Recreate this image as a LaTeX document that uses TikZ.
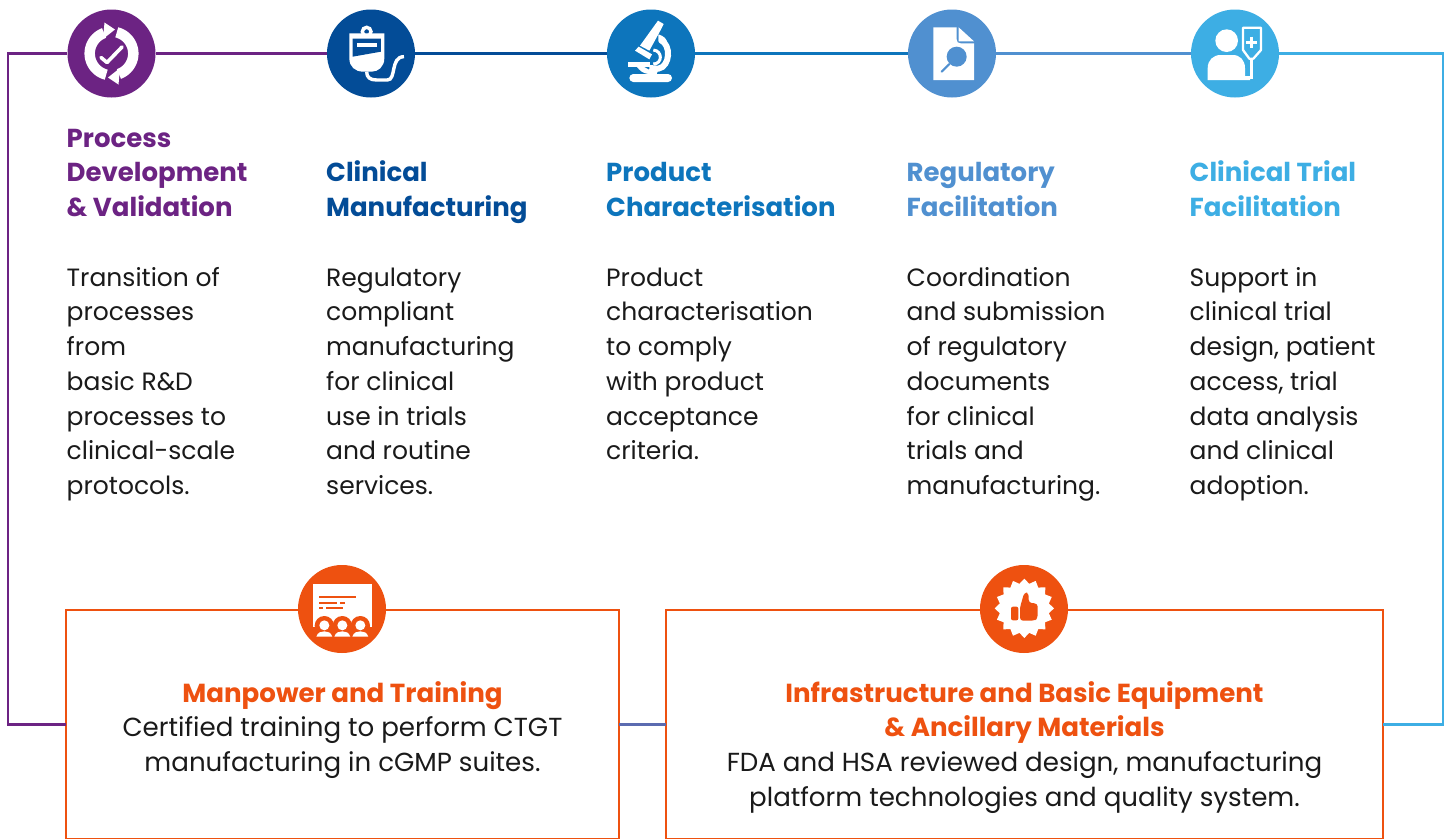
\documentclass[tikz,border=0pt]{standalone}
\usepackage{fontspec}
\setmainfont{Poppins}
\newcommand{\fl}{\rule{0pt}{24pt}}
\definecolor{cpurple}{HTML}{6C2383}
\definecolor{cnavy}{HTML}{034C97}
\definecolor{cblue}{HTML}{0D75BC}
\definecolor{csteel}{HTML}{5090D0}
\definecolor{csky}{HTML}{3DAEE4}
\definecolor{corange}{HTML}{EE5110}
\definecolor{ctext}{HTML}{1A1A1A}
\definecolor{cslate}{HTML}{5B6BB0}
\tikzset{
  x=1pt,y=-1pt,
  disc/.style={circle,minimum size=88pt,inner sep=0pt,fill=#1},
  conn/.style={line width=2.8pt,draw=#1},
  openbox/.style={rectangle,draw=corange,line width=2.8pt,inner sep=0pt,outer sep=0pt,anchor=north west},
  coltext/.style={anchor=north west,inner sep=0pt,align=left,text=ctext,font=\fontsize{25}{34.75}\selectfont},
  headtext/.style={anchor=north west,inner sep=0pt,align=left,font=\fontsize{26}{34.75}\selectfont\bfseries,text=#1},
  centertext/.style={anchor=north,inner sep=0pt,align=center,text=ctext,font=\fontsize{26.1}{34.75}\selectfont},
}
\begin{document}
\begin{tikzpicture}
\useasboundingbox (0,0) rectangle (1451,838);
\fill[white] (0,0) rectangle (1451,838);
% boxes
\node[openbox,minimum width=553pt,minimum height=229pt] (box1) at (66,610) {};
\node[openbox,minimum width=717pt,minimum height=229pt] (box2) at (666,610) {};
% discs
\node[disc=cpurple] (d1) at (111.5,53.5) {};
\node[disc=cnavy] (d2) at (371,53.5) {};
\node[disc=cblue] (d3) at (651,53.5) {};
\node[disc=csteel] (d4) at (952,53.5) {};
\node[disc=csky] (d5) at (1235,53.5) {};
\node[disc=corange] (d6) at (342,609) {};
\node[disc=corange] (d7) at (1024,609) {};
% corners
\coordinate (tl) at (8,53.5);
\coordinate (bl) at (8,724.5);
\coordinate (tr) at (1443,53.5);
\coordinate (br) at (1443,724.5);
% connectors
\draw[conn=cpurple,line join=miter] (d1) -- (tl) -- (bl) -- (box1);
\draw[conn=cpurple] (d1) -- (d2);
\draw[conn=cnavy] (d2) -- (d3);
\draw[conn=cblue] (d3) -- (d4);
\draw[conn=csteel] (d4) -- (d5);
\draw[conn=csky,line join=miter] (d5) -- (tr) -- (br) -- (box2);
\draw[conn=cslate] (box1) -- (box2);
% icon 1
\begin{scope}[shift={(111.5,53.5)}]
  \foreach \r in {0,180}{
    \begin{scope}[rotate=\r]
      \draw[white,line width=10.5pt] plot[domain=-76:70,samples=30] ({21.8*cos(\x)},{21.8*sin(\x)});
      \fill[white] (-3.5,24) -- (8.5,14.5) -- (7,31) -- cycle;
    \end{scope}
  }
  \draw[white,line width=3.6pt,line cap=round,line join=round] (-10.5,4) -- (-4.5,9) -- (10.5,-6.5);
\end{scope}
% icon 2
\begin{scope}[shift={(50,0)},scale=1/3]
  \draw[white,line width=3.4pt] (950,95) circle (13);
  \fill[white] (898,100) -- (1003,100) -- (1003,175) .. controls (1003,200) and (985,215) .. (965,215) -- (940,215) .. controls (915,215) and (898,200) .. (898,175) -- cycle;
  \fill[cnavy] (908,116) -- (993,116) -- (993,155) -- (908,170) -- cycle;
  \fill[white] (920,128) rectangle (982,140);
  \draw[white,line width=3.4pt] (950,215) .. controls (950,232) and (960,240) .. (980,240) -- (1012,240) .. controls (1040,240) and (1020,170) .. (1062,170);
\end{scope}
% icon 3
\begin{scope}[shift={(590,0)},scale=1/3]
  \fill[white,rounded corners=4pt] (118,222) rectangle (246,246);
  \fill[white] (114,186) rectangle (180,200);
  \fill[white] (150,137) -- (204,62) -- (221,72) -- (212,90) -- (178,152) -- cycle;
  \fill[white] (135,152) -- (146,140) -- (186,163) -- (178,178) -- cycle;
  \fill[white] (205,103) .. controls (222,108) and (232,118) .. (230,128) -- (205,125) -- cycle;
  \draw[white,line width=6pt] (212,120) .. controls (245,135) and (240,200) .. (205,206) -- (178,204);
  \draw[white,line width=3pt] (190,150) .. controls (218,152) and (218,192) .. (190,192);
  \fill[white] (140,200) .. controls (150,212) and (158,220) .. (175,222) -- (200,222) -- (205,210) -- (175,208) .. controls (170,205) and (165,202) .. (160,200) -- cycle;
\end{scope}
% icon 4
\begin{scope}[shift={(590,0)},scale=1/3]
  \fill[white] (1030,82) -- (1100,82) -- (1100,118) .. controls (1100,126) and (1104,130) .. (1112,130) -- (1152,130) -- (1152,240) -- (1030,240) -- cycle;
  \fill[white] (1106,82) -- (1152,124) -- (1106,124) -- cycle;
  \fill[csteel] (1100,170) circle (30);
  \draw[csteel,line width=2pt,line cap=round] (1078,192) -- (1055,215);
\end{scope}
% icon 5
\begin{scope}[shift={(1170,0)},scale=1/3]
  \fill[white] (170,122) circle (34);
  \fill[white] (113,240) -- (113,205) .. controls (113,180) and (130,165) .. (152,165) -- (188,165) .. controls (210,165) and (225,180) .. (225,205) -- (225,228) -- (240,228) -- (240,240) -- cycle;
  \draw[white,line width=2.3pt,line join=round] (219,83) -- (273,83) -- (273,150) -- (250,176) -- (238,176) -- (219,150) -- cycle;
  \draw[white,line width=3.2pt] (245,110) -- (245,144);
  \draw[white,line width=3.2pt] (228,127) -- (262,127);
  \draw[white,line width=2.8pt] (244,176) -- (244,238);
\end{scope}
% icon 6
\begin{scope}[shift={(280,555)},scale=1/3]
  \fill[white] (100,88) rectangle (275,216);
  \fill[corange] (118,123) rectangle (228,129);
  \fill[corange] (118,140) rectangle (172,146);
  \fill[corange] (180,140) rectangle (195,146);
  \fill[corange] (118,156) rectangle (130,162);
  \fill[corange] (138,156) rectangle (190,162);
  \foreach \c in {133,187,241}{
    \fill[corange] (\c,212) circle (29);
  }
  \fill[corange] (100,216) rectangle (275,250);
  \foreach \c in {133,187,241}{
    \fill[white] (\c,211) circle (15);
    \fill[white] (\c-24,245) .. controls (\c-20,232) and (\c-10,229) .. (\c,229) .. controls (\c+10,229) and (\c+20,232) .. (\c+24,245) -- cycle;
  }
\end{scope}
% icon 7
\begin{scope}[shift={(965,555)},scale=1/3]
  \fill[white] plot[domain=0:360,samples=33] ({178+(82+7*cos(16*\x))*cos(\x)},{160+(82+7*cos(16*\x))*sin(\x)}) -- cycle;
  \fill[corange,rounded corners=2pt] (138,155) rectangle (160,196);
  \fill[corange,rounded corners=3pt] (165,157) -- (178,112) -- (191,114) -- (191,143) -- (218,146) -- (218,190) -- (208,197) -- (165,197) -- cycle;
\end{scope}
% column texts
\node[headtext=cpurple] (h1) at (66.5,123) {\fl Process\\Development\\\& Validation};
\node[headtext=cnavy] (h2) at (326,157.7) {\fl Clinical\\Manufacturing};
\node[headtext=cblue] (h3) at (606,157.7) {\fl Product\\Characterisation};
\node[headtext=csteel] (h4) at (906.5,157.7) {\fl Regulatory\\Facilitation};
\node[headtext=csky] (h5) at (1189.5,157.7) {\fl Clinical Trial\\Facilitation};
\node[coltext] (c1) at (66.5,262) {\fl Transition of\\processes\\from\\basic R\&D\\processes to\\clinical-scale\\protocols.};
\node[coltext] (c2) at (326,262) {\fl Regulatory\\compliant\\manufacturing\\for clinical\\use in trials\\and routine\\services.};
\node[coltext] (c3) at (606,262) {\fl Product\\characterisation\\to comply\\with product\\acceptance\\criteria.};
\node[coltext] (c4) at (906.5,262) {\fl Coordination\\and submission\\of regulatory\\documents\\for clinical\\trials and\\manufacturing.};
\node[coltext] (c5) at (1189.5,262) {\fl Support in\\clinical trial\\design, patient\\access, trial\\data analysis\\and clinical\\adoption.};
% box texts
\node[centertext] (b1) at (342.5,678) {\fl{\bfseries\color{corange}Manpower and Training}\\Certified training to perform CTGT\\manufacturing in cGMP suites.};
\node[centertext] (b2) at (1024.5,678) {\fl{\bfseries\color{corange}Infrastructure and Basic Equipment}\\{\bfseries\color{corange}\& Ancillary Materials}\\FDA and HSA reviewed design, manufacturing\\platform technologies and quality system.};
\end{tikzpicture}
\end{document}
